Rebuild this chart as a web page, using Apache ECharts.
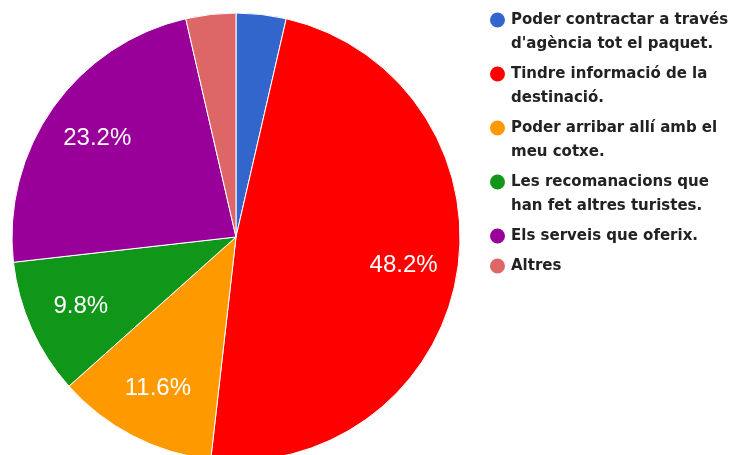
<!DOCTYPE html>
<html>
<head>
<meta charset="utf-8">
<script src="https://cdn.jsdelivr.net/npm/echarts@6/dist/echarts.min.js"></script>
<style>
  html, body { margin: 0; padding: 0; background: #fff; }
  #chart { width: 733px; height: 455px; }
</style>
</head>
<body>
<div id="chart"></div>
<script>
const names = [
  "Poder contractar a través\nd'agència tot el paquet.",
  "Tindre informació de la\ndestinació.",
  "Poder arribar allí amb el\nmeu cotxe.",
  "Les recomanacions que\nhan fet altres turistes.",
  "Els serveis que oferix.",
  "Altres"
];
const values = [3.6, 48.2, 11.6, 9.8, 23.2, 3.6];
const colors = ["#3366cc", "#ff0000", "#ff9900", "#109618", "#990099", "#dd6666"];

let myChart = echarts.init(document.querySelector("#chart"));
let data = names.map((n, i) => ({ name: n, value: values[i] }));

// legend text is middle aligned on the icon; blank lines keep the icon on line one
function legendText(name) {
  const i = names.indexOf(name);
  if (name.indexOf("\n") >= 0) return "\n" + name;
  if (i === names.length - 1) return name;
  return "\n" + name + "\n";
}

let option = {
  color: colors,
  animation: false,
  legend: {
    orient: "vertical",
    left: 488,
    top: -16,
    padding: 0,
    itemGap: -18,
    itemWidth: 17,
    itemHeight: 17,
    icon: "circle",
    formatter: legendText,
    textStyle: {
      fontFamily: "DejaVu Sans",
      fontWeight: "bold",
      fontSize: 15,
      lineHeight: 24,
      color: "#222",
    },
    data: names,
  },
  series: [
    {
      type: "pie",
      center: [236, 237],
      radius: [0, 224],
      startAngle: 90,
      itemStyle: { borderColor: "#fff", borderWidth: 1 },
      label: { show: false },
      labelLine: { show: false },
      data: data,
    },
    {
      // transparent ring only used to place the percent labels
      type: "pie",
      center: [236, 237],
      radius: [110, 224],
      startAngle: 90,
      silent: true,
      itemStyle: { color: "transparent" },
      label: {
        show: true,
        position: "inside",
        color: "#fff",
        fontFamily: "Liberation Sans",
        fontSize: 24,
        formatter: (p) => (p.value > 5 ? p.value.toFixed(1) + "%" : ""),
      },
      labelLine: { show: false },
      data: data,
    },
  ],
};
myChart.setOption(option);
window.addEventListener("resize", () => {
  myChart.resize();
});
</script>
</body>
</html>
